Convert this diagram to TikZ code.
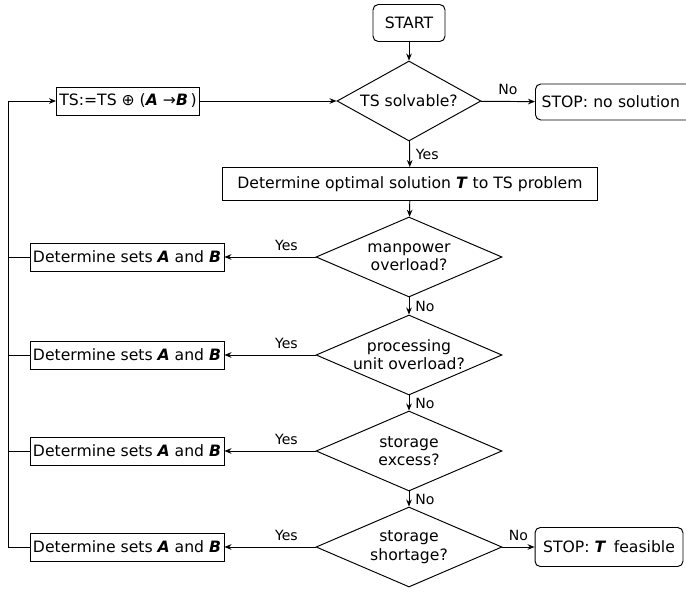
\documentclass[tikz,border=0pt]{standalone}
\usepackage{fontspec}
\setmainfont{DejaVu Sans}
\usetikzlibrary{shapes.geometric,arrows.meta}
\newcommand{\bi}[1]{\textbf{\textit{#1}}}

\begin{document}
\begin{tikzpicture}[x=0.02cm,y=-0.02cm,
  font=\fontsize{8.9}{10.4}\selectfont,
  process/.style={draw,line width=0.55pt,inner sep=0pt,minimum height=0.56cm},
  terminal/.style={process,rounded corners=3pt},
  decision/.style={draw,diamond,line width=0.55pt,inner sep=0pt,align=center,aspect=2.3,minimum width=3.72cm,minimum height=1.6cm},
  flow/.style={-{Stealth[length=4pt,width=3.2pt]},line width=0.55pt},
  lbl/.style={font=\fontsize{8}{9}\selectfont}]
\useasboundingbox (0,0) rectangle (686,595);
% main column
\node[terminal,minimum width=1.44cm,minimum height=0.74cm] (start) at (409,23) {START};
\node[decision,minimum width=2.88cm] (solv) at (409,101) {TS solvable?};
\node[terminal,anchor=west,inner xsep=3.5pt,text width=3.1cm,align=left,minimum height=0.72cm] (nosol) at (535,102) {STOP: no solution};
\node[process,minimum width=2.86cm] (ts) at (128,101) {TS:=TS ⊕ (\bi{A} →\bi{B}\,)};
\node[process,minimum width=7.52cm,minimum height=0.66cm] (opt) at (410,184) {Determine optimal solution \bi{T} to TS problem};
\node[decision] (man) at (409,257) {manpower\\overload?};
\node[decision] (proc) at (409,355) {processing\\unit overload?};
\node[decision] (exc) at (409,451) {storage\\excess?};
\node[decision] (sho) at (409,547) {storage\\shortage?};
\node[terminal,minimum width=2.96cm,minimum height=0.78cm] (feas) at (609,547) {STOP: \bi{T}\, feasible};
% left column
\foreach \n/\y in {1/257,2/355,3/451,4/547}
  \node[process,minimum width=3.88cm] (sets\n) at (127,\y) {Determine sets \bi{A} and \bi{B}};
\coordinate (fb) at (8,101);
% connectors
\draw[flow] (start) -- (solv);
\draw[flow] (ts) -- (solv);
\draw[flow] (solv) -- node[lbl,above]{No} (nosol);
\draw[flow] (solv) -- node[lbl,right]{Yes} (opt);
\draw[flow] (opt) -- (man);
\draw[flow] (man) -- node[lbl,right]{No} (proc);
\draw[flow] (proc) -- node[lbl,right]{No} (exc);
\draw[flow] (exc) -- node[lbl,right]{No} (sho);
\draw[flow] (sho) -- node[lbl,above]{No} (feas);
\foreach \d/\n in {man/1,proc/2,exc/3,sho/4}
  \draw[flow] (\d) -- node[lbl,above,pos=0.32]{Yes} (sets\n);
\foreach \n in {1,2,3}
  \draw[line width=0.55pt] (sets\n.west) -- (sets\n.west -| fb);
\draw[flow] (sets4.west) -- (sets4.west -| fb) -- (fb) -- (ts);
\end{tikzpicture}
\end{document}
